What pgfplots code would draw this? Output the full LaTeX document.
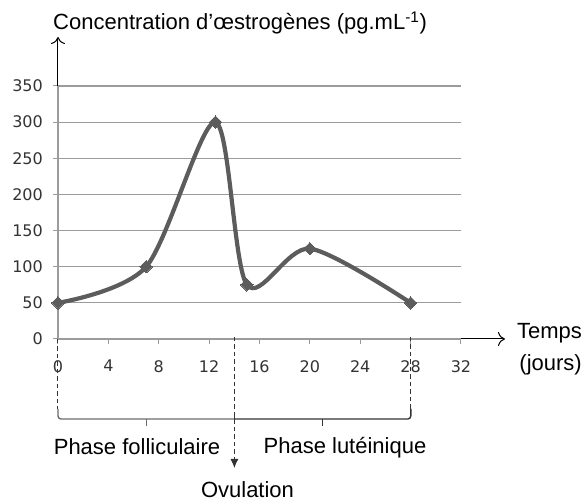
\documentclass[border=0pt]{standalone}
\usepackage{pgfplots}
\pgfplotsset{compat=1.18}
\usepackage{fontspec}
\setmainfont{Liberation Sans}
\newfontfamily\tickfont{DejaVu Sans}
\usetikzlibrary{arrows.meta}
\definecolor{curve}{RGB}{92,92,92}
\definecolor{gridc}{RGB}{155,155,155}
\begin{document}
\begin{tikzpicture}[x=1pt,y=1pt]
\useasboundingbox (-58,-162) rectangle (524,339);
\begin{axis}[
  at={(0,0)}, anchor=origin,
  scale only axis, width=403pt, height=253pt,
  xmin=0, xmax=32, ymin=0, ymax=350,
  axis x line*=bottom, axis y line*=left,
  axis line style={gridc, line width=1.1pt},
  xtick={0,4,...,32}, ytick={0,50,...,350},
  tick align=outside, major tick length=5pt,
  tick style={gridc, line width=1pt},
  ymajorgrids, grid style={gridc, line width=1.1pt},
  /pgf/number format/assume math mode=true,
  ticklabel style={font=\tickfont\fontsize{16}{16}\selectfont, text=black!80},
  yticklabel style={inner sep=0pt, xshift=-10pt},
  xticklabel style={inner sep=0pt, yshift=-16pt},
  clip=false,
]
\addplot[curve, line width=4.2pt, smooth, tension=0.5, mark=square*, mark size=4.4pt,
  mark options={fill=curve, draw=curve, line width=0pt, rotate=45}]
  coordinates {(0,50) (7,100) (12.5,300) (15,75) (20,125) (28,50)};
\end{axis}
% axis arrows
\draw[line width=1pt, -{To[length=7pt,width=14pt]}] (0,253) -- (0,302);
\draw[line width=1pt, -{To[length=7pt,width=14pt]}] (403,0) -- (447,0);
% dashed lines and brackets
\def\d{12.6}
\draw[black!80, line width=1pt, dash pattern=on 4.5pt off 3pt] (0,0) -- (0,-70);
\draw[black!80, line width=1pt, dash pattern=on 4.5pt off 3pt] (28*\d,2) -- (28*\d,-70);
\draw[black!80, line width=1pt, dash pattern=on 4.5pt off 3pt, -{Latex[length=9pt,width=8pt]}] (14*\d,2) -- (14*\d,-129);
\draw[gridc!70!black, line width=1.4pt, rounded corners=3pt] (0,-70) -- (0,-80) -- (14*\d,-80);
\draw[black!80, line width=1.4pt, rounded corners=3pt] (14*\d,-80) -- (28*\d,-80) -- (28*\d,-70);
\draw[black!80, line width=1.4pt] (14*\d,-80) -- (14*\d,-73);
\draw[gridc!70!black, line width=1.3pt] (7*\d,-80) -- (7*\d,-87);
\draw[black!80, line width=1.3pt] (21*\d,-80) -- (21*\d,-87);
% texts
\node[anchor=west, inner sep=0pt, font=\fontsize{22}{26}\selectfont] at (-5,316) {Concentration d’œstrogènes (pg.mL\textsuperscript{-1})};
\node[anchor=east, inner sep=0pt, font=\fontsize{22}{26}\selectfont] at (524,6) {Temps};
\node[anchor=east, inner sep=0pt, font=\fontsize{22}{26}\selectfont] at (524,-26) {(jours)};
\node[inner sep=0pt, font=\fontsize{22}{26}\selectfont] at (79,-108) {Phase folliculaire};
\node[inner sep=0pt, font=\fontsize{22}{26}\selectfont] at (287,-109) {Phase lutéinique};
\node[inner sep=0pt, font=\fontsize{22}{26}\selectfont] at (189.5,-151) {Ovulation};
\end{tikzpicture}
\end{document}
